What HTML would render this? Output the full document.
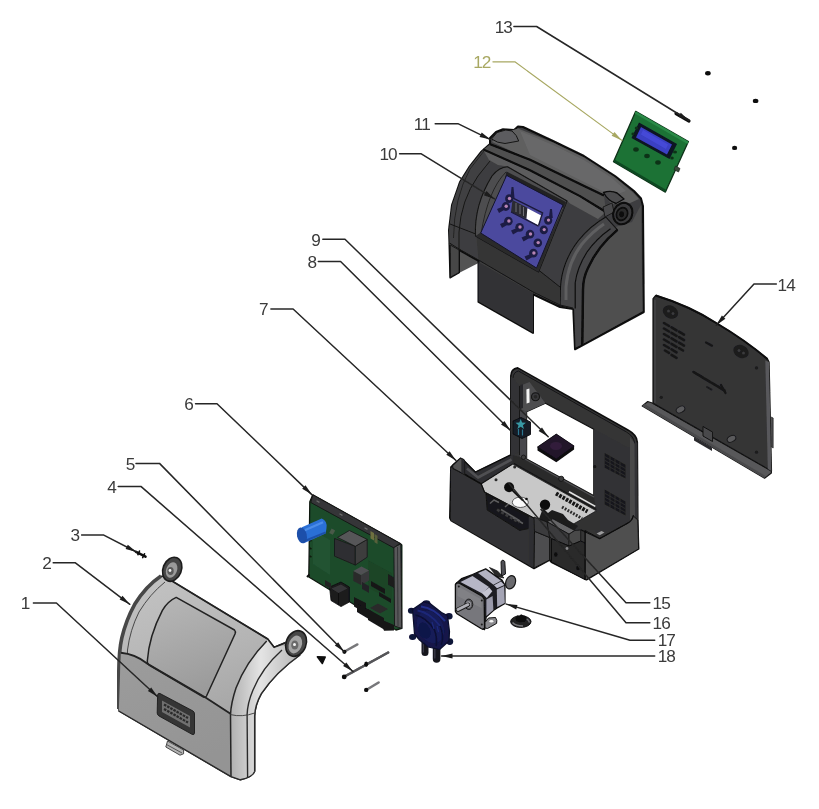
<!DOCTYPE html>
<html>
<head>
<meta charset="utf-8">
<title>Exploded view</title>
<style>
html,body{margin:0;padding:0;background:#fff;}
body{width:819px;height:809px;overflow:hidden;font-family:"Liberation Sans",sans-serif;}
svg{display:block;}
.lbl{font-family:"Liberation Sans",sans-serif;font-size:17.2px;fill:#3a3a3a;letter-spacing:-1px;}
.ld{fill:none;stroke:#262626;stroke-width:1.5;stroke-linejoin:round;stroke-linecap:round;}
.ah{fill:#1c1c1c;stroke:none;}
</style>
</head>
<body>
<svg width="819" height="809" viewBox="0 0 819 809">
<defs>
<filter id="soft" x="-5%" y="-5%" width="110%" height="110%"><feGaussianBlur stdDeviation="0.55"/></filter>
<filter id="soft2" x="-5%" y="-5%" width="110%" height="110%"><feGaussianBlur stdDeviation="0.4"/></filter>
</defs>
<rect x="0" y="0" width="819" height="809" fill="#ffffff"/>

<!-- ===== LEADERS BEHIND PARTS ===== -->
<g id="leaders-back" filter="url(#soft2)">
</g>

<!-- ===== PARTS ===== -->
<g id="parts" filter="url(#soft)">
<!-- 01_frontcover.svg -->
<defs>
<linearGradient id="fcMain" x1="0" y1="0" x2="0.35" y2="1"><stop offset="0" stop-color="#c4c4c4"/><stop offset="0.5" stop-color="#b4b4b4"/><stop offset="1" stop-color="#9c9c9c"/></linearGradient>
<linearGradient id="fcWin" x1="0.2" y1="0" x2="0.5" y2="1"><stop offset="0" stop-color="#b6b6b6"/><stop offset="1" stop-color="#9a9a9a"/></linearGradient>
<linearGradient id="fcLow" x1="0" y1="0" x2="0.4" y2="1"><stop offset="0" stop-color="#9c9c9c"/><stop offset="1" stop-color="#949494"/></linearGradient>
<linearGradient id="fcArm" x1="0" y1="0" x2="1" y2="0"><stop offset="0" stop-color="#b0b0b0"/><stop offset="0.45" stop-color="#e4e4e4"/><stop offset="1" stop-color="#b8b8b8"/></linearGradient>
</defs>
<g id="frontcover" stroke-linejoin="round">
<!-- silhouette -->
<path d="M159.4,576.6 Q164,575 172,581 L267.7,638.9 L274.1,647.3 L286,642 L300,655 Q276,672 261.4,693.6 Q255,705 254.7,716 L254.7,771.4 Q253,777 240.4,779.8 L231,776.6 L118.8,711 L118.8,671.6 Q119,650 121.8,638 Q126,620 134.7,604.3 Q146,586 159.4,576.6 Z" fill="url(#fcMain)" stroke="#2a2a2a" stroke-width="1.3"/>
<!-- left rim dark -->
<path d="M161,576 Q146,586 134.7,604.3 Q126,620 121.8,638 Q119,650 118.8,671.6 L118.8,709" fill="none" stroke="#474747" stroke-width="3.6"/>
<path d="M165,582 Q150,594 139,612 Q130,630 127.5,650 L126.8,707" fill="none" stroke="#3a3a3a" stroke-width="0.9"/>
<path d="M122.3,655 L122.3,706" stroke="#8a8a8a" stroke-width="2.2"/>
<!-- lower panel -->
<path d="M120.8,652.8 Q135,654 147.5,663.7 L205.9,697.3 L230.5,713.6 L231,776.6 L118.8,711 Z" fill="url(#fcLow)"/>
<!-- window -->
<path d="M176.2,597.4 L234.5,630 Q236,631.5 235,634 L206.5,696 Q205.5,698 203.5,697 L149,665 Q147,663.5 147.3,661 Q149,636 162.4,610.3 Q168,601 176.2,597.4 Z" fill="url(#fcWin)" stroke="#222" stroke-width="1.5"/>
<!-- fold line -->
<path d="M120.8,652.8 Q135,654 147.5,663.7 L205.9,697.8 L230.5,713.8" fill="none" stroke="#222" stroke-width="1.9"/>
<!-- right arm -->
<path d="M266.7,641 Q246,662 236,688 Q231,703 230.5,714.6 L231,776.6 L240.4,779.8 Q253,777 254.7,771.4 L254.7,716 Q255,705 261.4,693.6 Q276,672 298,657.5 L284,645.5 L274.1,647.3 L267.7,638.9 Z" fill="url(#fcArm)"/>
<path d="M266.7,641 Q246,662 236,688 Q231,703 230.5,714.6 L231,776.6" fill="none" stroke="#262626" stroke-width="1.5"/>
<path d="M282,650 Q262,668 253,690 Q247.5,703 247.1,714.6 L247.6,778" fill="none" stroke="#2c2c2c" stroke-width="1.4"/>
<path d="M230.5,714.6 Q242,717.5 254.7,713" fill="none" stroke="#3a3a3a" stroke-width="0.9"/>
<path d="M254.7,771.4 L254.7,716 Q255,705 261.4,693.6 Q276,672 300,655" fill="none" stroke="#2a2a2a" stroke-width="1.5"/>
<!-- top edge -->
<path d="M172,581 L267.7,638.9 L274.1,647.3 L285,643" fill="none" stroke="#222" stroke-width="1.7"/>
<!-- bottom edge -->
<path d="M118.8,711 L231,776.6 L240.4,779.8 Q253,777 254.7,771.4" fill="none" stroke="#2a2a2a" stroke-width="1.4"/>
<!-- hinge ears -->
<g>
<ellipse cx="172.2" cy="569.3" rx="9.2" ry="12.4" transform="rotate(22 172.2 569.3)" fill="#454545" stroke="#1c1c1c" stroke-width="1.6"/>
<ellipse cx="171.6" cy="570" rx="5.4" ry="8" transform="rotate(22 171.6 570)" fill="#9a9a9a"/>
<ellipse cx="170.5" cy="571" rx="3.2" ry="4" fill="#5a5a5a"/>
<circle cx="170" cy="570.5" r="1.4" fill="#f0f0f0"/>
<ellipse cx="296.1" cy="643.5" rx="10" ry="13.2" transform="rotate(22 296.1 643.5)" fill="#474747" stroke="#1c1c1c" stroke-width="1.6"/>
<ellipse cx="295.3" cy="644.5" rx="6.4" ry="9.2" transform="rotate(22 295.3 644.5)" fill="#a4a4a4"/>
<ellipse cx="294.8" cy="645" rx="3.6" ry="4.6" fill="#6a6a6a"/>
<circle cx="294.5" cy="644.6" r="1.5" fill="#f4f4f4"/>
</g>
<!-- display slot -->
<path d="M160,693.5 L193,711 Q194.5,712 194.5,714 L194.5,733 Q194.2,735.5 192,734.3 L159,716 Q157.2,715 157.2,713 L157.6,695 Q158,692.6 160,693.5 Z" fill="#343434" stroke="#1c1c1c" stroke-width="0.9"/>
<polygon points="162,700.5 190,716 190,727.5 162,712" fill="#707070"/>
<path d="M164,704.5 L188,718 M164,709 L188,722.5" stroke="#2a2a2a" stroke-width="2.2" stroke-dasharray="2.6 1"/>
<!-- tab -->
<polygon points="167.5,741 183.6,750 183.6,753.8 180,755.2 165.8,747" fill="#b4b4b4" stroke="#3a3a3a" stroke-width="0.9"/>
<path d="M166.5,744.5 L182,753" stroke="#4a4a4a" stroke-width="0.9"/>
</g>

<!-- 04_screws.svg -->
<g id="screws" stroke-linecap="round">
<!-- screw 5 -->
<path d="M345.5,651 L357.4,644.4" stroke="#77777a" stroke-width="2.4"/>
<circle cx="344.4" cy="651.8" r="2.1" fill="#111"/>
<!-- screw 4 -->
<path d="M345.5,676 L388.2,652.5" stroke="#77777a" stroke-width="2.4"/>
<path d="M345.5,676 L388.2,652.5" stroke="#555558" stroke-width="2.4" stroke-dasharray="0.8 1.2"/>
<circle cx="344.2" cy="676.9" r="2.4" fill="#111"/>
<ellipse cx="366.2" cy="664.2" rx="2" ry="2.7" fill="#111"/>
<!-- small screw -->
<path d="M367,689.5 L378.6,682.5" stroke="#77777a" stroke-width="2.6"/>
<circle cx="366.2" cy="689.9" r="2.2" fill="#111"/>
<!-- cone -->
<path d="M317.3,656.8 L325.3,657 L322.3,663.6 Z" fill="#111" stroke="#111" stroke-width="1.4" stroke-linejoin="round"/>
<!-- screw 3 -->
<path d="M136,551.8 L145.5,556.6" stroke="#111" stroke-width="2.6"/>
<path d="M139.5,551 l-1.6,3.6 M144.5,553.8 l-1.8,3.8" stroke="#111" stroke-width="1.6"/>
</g>

<!-- 06_pcb.svg -->
<g id="pcb" stroke-linejoin="round">
<!-- board body -->
<polygon points="312.8,494.8 399.8,543.3 401.8,545 401.8,628.4 396,630 308.8,577 309.8,501.8" fill="#1d4c2c" stroke="#0e160f" stroke-width="1.3"/>
<!-- top bracket strip -->
<polygon points="312.8,494.8 399.8,543.3 394,548 310.8,502.5" fill="#353537" stroke="#141414" stroke-width="0.9"/>
<path d="M317,501 l2,1.2 M340,514 l2,1.2 M365,528 l2,1.2" stroke="#6a6a6a" stroke-width="1.4" stroke-linecap="round"/>
<!-- right strip -->
<polygon points="393.9,547.5 400.8,543.8 401.8,628.4 394.5,626" fill="#58585a" stroke="#151515" stroke-width="0.9"/>
<path d="M397.5,547 L398,626" stroke="#2c2c2e" stroke-width="0.8"/>
<!-- lighter green patches -->
<polygon points="313,530 330,540 330,575 313,564" fill="#215231"/>
<polygon points="368,560 392,573 392,600 368,588" fill="#1a4427"/>
<!-- left edge notches -->
<path d="M309.5,540 l2,1 M309.5,548 l2,1 M309.5,556 l2,1" stroke="#0e1a10" stroke-width="1.6"/>
<!-- capacitor -->
<path d="M301.9,527.3 L321.7,518.6 Q327.5,521 326.5,528 Q326,532 325.6,533.4 L303.9,543.3 Z" fill="#2c6fd6"/>
<path d="M303,531 L323,522.2" stroke="#5a9af0" stroke-width="2.2" opacity="0.7"/>
<ellipse cx="301.9" cy="535.4" rx="4.9" ry="8" transform="rotate(-12 301.9 535.4)" fill="#1e50aa"/>
<path d="M303.5,541.5 L325.6,532.4" stroke="#1a4aa0" stroke-width="2" opacity="0.8"/>
<!-- relay -->
<polygon points="334.5,538.4 355.3,546.3 355.3,565.1 334.5,556.2" fill="#2e2e30" stroke="#161616" stroke-width="0.8"/>
<polygon points="355.3,546.3 367.2,539.4 367.2,557.2 355.3,565.1" fill="#3c3c3e" stroke="#161616" stroke-width="0.8"/>
<polygon points="337.5,537.4 349.4,530.5 367.2,539.4 355.3,546.3" fill="#565658" stroke="#161616" stroke-width="0.8"/>
<!-- small gold part -->
<polygon points="370.5,531 374,533 374,540.5 370.5,538.5" fill="#6e7040"/>
<polygon points="374.5,534 377.5,535.7 377.5,544 374.5,542.3" fill="#58603a"/>
<rect x="330.5" y="529" width="4" height="5" fill="#4a5a4a" transform="rotate(28 332 531)"/>
<!-- small component -->
<polygon points="353.3,571 361,575 361,585 353.3,581" fill="#2a2a2c"/>
<polygon points="361,575 369.1,570.5 369.1,580.5 361,585" fill="#38383a"/>
<polygon points="353.3,571 361.5,566.5 369.1,570.5 361,575" fill="#505052"/>
<polygon points="362,582 369,586 369,593 362,589" fill="#242426"/>
<!-- connectors bottom-left -->
<polygon points="329.6,587 341,582 349.4,587 349.4,602 341,606.6 331,600.5" fill="#1a1a1c" stroke="#0c0c0c" stroke-width="0.8"/>
<polygon points="331.5,588.5 341,584.5 347.5,588.5 338.5,593" fill="#363638"/>
<path d="M338.5,593 L338.5,605" stroke="#0c0c0c" stroke-width="0.8"/>
<polygon points="325,580 331,583.5 331,589 325,585.5" fill="#222"/>
<!-- dark ICs mid -->
<polygon points="371,581 385,589 385,594 371,586" fill="#151517"/>
<polygon points="379,592 391,599 391,603 379,596" fill="#151517"/>
<polygon points="388,574 394,577.5 394,588 388,584.5" fill="#1a1a1c"/>
<!-- bottom right connectors -->
<polygon points="354,597 366,603 366,613.5 354,606.5" fill="#161618"/>
<polygon points="357,603 372,611.5 372,621 357,612" fill="#121214"/>
<polygon points="368,609 384,618 384,629.5 368,620" fill="#161618"/>
<polygon points="380,619 394,625 394,630.5 384,630.8" fill="#141416"/>
<polygon points="370,608 378,603.5 388,609 380,613.5" fill="#2a2a2c"/>
<path d="M309.5,574.5 l-2.5,2.5" stroke="#111" stroke-width="2"/>
</g>

<!-- 07_housing.svg -->
<g id="housing" stroke-linejoin="round">
<!-- overall silhouette -->
<path d="M510.8,376 Q511,369 517.7,367.9 L628.4,430.2 Q637,435 637.3,442 L637.8,522.5 L638.6,548.9 L586.5,579.8 L551.4,562.3 L549.6,560 L534,568.5 L451,520.5 L449.8,518 L450.9,467 L453.9,464.1 L459.8,459.2 L462.8,459.2 L464.3,461.1 L475.4,472.2 L510.8,455 Z" fill="#343435" stroke="#101010" stroke-width="1.6"/>
<!-- opening (white) -->
<polygon points="526.6,411.8 545.4,403.3 593.8,429.2 593.8,495.4 526.6,458.8" fill="#ffffff"/>
<path d="M526.6,458.8 L526.6,411.8 L545.4,403.3 L593.8,429.2 L593.8,495.4" fill="none" stroke="#101010" stroke-width="1.2"/>
<!-- top bar second line -->
<path d="M513,378 Q513.5,372 518.5,371 L626.5,432 Q634,436.5 634.5,443 L635,521" fill="none" stroke="#141416" stroke-width="1"/>
<!-- left pillar inner face (upper) -->
<polygon points="519.5,386 529.5,382 545.4,403.3 526.6,411.8 519.5,409" fill="#4e4e50"/>
<polygon points="519.5,385.5 523,384 523,408 519.5,409.5" fill="#28282a"/>
<polygon points="526.4,389.6 529.4,388.4 529.6,402.5 526.6,403.6" fill="#f4f4f4"/>
<circle cx="535.5" cy="396.8" r="4" fill="#38383a" stroke="#121212" stroke-width="1.1"/>
<circle cx="535.5" cy="396.8" r="1.8" fill="#262628"/>
<!-- left pillar front lower -->
<polygon points="510.8,376 519.5,386 519.5,452 510.8,456" fill="#333334"/>
<polygon points="519.5,409 526.6,411.8 526.6,459 519.5,455.5" fill="#47474b"/>
<path d="M519.5,386 L519.5,455" stroke="#121212" stroke-width="1"/>
<!-- right pillar -->
<polygon points="593.8,429.2 628.4,448 637.3,442 637.8,520 596.3,537 593.8,495.4" fill="#333334"/>
<polygon points="630,437 634.5,443 635,521 630,523.5" fill="#48484a"/>
<circle cx="594.8" cy="466.7" r="1.6" fill="#161618"/>
<!-- vents -->
<g>
<polygon points="604.7,452.9 625.5,464.8 625.5,478.6 604.7,467.8" fill="#19191b"/>
<polygon points="604.7,489.5 625.5,501.4 625.5,515.5 604.7,504.4" fill="#19191b"/>
<g stroke="#38383a" stroke-width="0.6">
<path d="M604.7,456.6 l20.8,11.9 M604.7,460.3 l20.8,11.9 M604.7,464 l20.8,11.9"/>
<path d="M604.7,493.2 l20.8,11.9 M604.7,496.9 l20.8,11.9 M604.7,500.6 l20.8,11.9"/>
<path d="M610,456 l0,15 M615,458.8 l0,15 M620,461.7 l0,15 M610,492.5 l0,15 M615,495.3 l0,15 M620,498.2 l0,15"/>
</g>
</g>
<!-- tray back rim band -->
<polygon points="526.6,458.8 593.8,495.4 596.3,510.8 512.5,464.1 512.5,455" fill="#2a2a2c"/>
<path d="M520,456.3 L594,497" stroke="#505052" stroke-width="1.3"/>
<path d="M526.6,458.8 L593.8,495.4" stroke="#101010" stroke-width="0.8"/>
<circle cx="561.2" cy="478.8" r="2.6" fill="#3c3c3e" stroke="#121212" stroke-width="0.9"/>
<circle cx="523.5" cy="457.3" r="2.2" fill="#3c3c3e" stroke="#121212" stroke-width="0.8"/>
<!-- inner right wall -->
<polygon points="596.3,510.8 599.7,513 599.7,530 580.7,530 566,528" fill="#303032"/>
<!-- floor plate -->
<polygon points="481.1,483.2 512.5,464.1 596.3,510.8 566,528.3 538.4,520.4 484.5,491.8" fill="#c8c8c8" stroke="#1c1c1c" stroke-width="0.8"/>
<path d="M569,491.7 L595.3,506.4" stroke="#e2e2e2" stroke-width="1.6"/>
<path d="M514,463.6 L596.3,509.6" stroke="#151515" stroke-width="1.1"/>
<!-- ledge L-shape -->
<polygon points="464.3,461.1 475.4,472.2 510.8,455 512.5,464.1 481.3,483.8 464.3,473.7" fill="#2e2e30"/>
<path d="M467,468.5 L478,477.5 L511.5,459.5" fill="none" stroke="#505052" stroke-width="2.6"/>
<path d="M464.3,461.1 L475.4,472.2 L510.8,455" fill="none" stroke="#101010" stroke-width="1.1"/>
<path d="M464.3,473.7 L481.3,483.8 L512.5,464.1" fill="none" stroke="#101010" stroke-width="1.1"/>
<!-- plate details -->
<circle cx="496" cy="479.8" r="1.5" fill="#2a2a2a"/><circle cx="514.7" cy="467" r="1.5" fill="#2a2a2a"/>
<ellipse cx="520.3" cy="502.3" rx="8" ry="5.2" fill="#fafafa" stroke="#3a3a3a" stroke-width="0.8"/>
<circle cx="509.1" cy="487.3" r="5" fill="#101010"/>
<path d="M509.1,487.1 L523,500.5" stroke="#101010" stroke-width="1.8"/>
<circle cx="526.5" cy="499" r="1.3" fill="#101010"/>
<circle cx="545" cy="504.7" r="5.2" fill="#101010"/>
<!-- label strip -->
<path d="M556,493.5 L587.5,511.5" stroke="#141414" stroke-width="4" stroke-dasharray="2.6 1.2"/>
<path d="M562,507 L582,518.5" stroke="#2a2a2a" stroke-width="3" stroke-dasharray="1.8 1.4"/>
<!-- cable blob -->
<path d="M543,508 L548,513 L552,510 L563,514 L568,520 L578,526 L573,532 L560,529 L548,523 L538.4,520.4 Z" fill="#1c1c1e"/>
<!-- small box -->
<polygon points="547,521.8 552.8,518.8 574.8,530.5 569,534.2" fill="#666668" stroke="#121212" stroke-width="0.8"/>
<polygon points="547,521.8 569,534.2 569,546 551.4,538.6 547,533" fill="#3a3a3c" stroke="#121212" stroke-width="0.8"/>
<polygon points="569,534.2 574.8,530.5 580.7,530 580.7,541 569,546" fill="#48484a" stroke="#121212" stroke-width="0.8"/>
<!-- front face -->
<polygon points="450.9,467.5 464.3,474.5 481.3,484.3 484.5,492.2 534,518.3 534,568 451,520.5" fill="#333334"/>
<path d="M464.3,474.5 L481.3,484.3 L484.5,492.2 L538.4,520.6" stroke="#101010" stroke-width="1.1" fill="none"/>
<!-- tab -->
<polygon points="452.5,465.5 458.5,459.8 460.6,457.9 464.5,460.5 464.5,474.5 453,468.5" fill="#525253" stroke="#101010" stroke-width="1.1"/>
<polygon points="460.6,457.9 464.5,460.5 464.5,474.5 461.3,472.8 461.3,459.5" fill="#2c2c2d"/>
<!-- cutout -->
<polygon points="486,494 528.5,516.5 528.5,528.6 519.6,530.4 487.2,510" fill="#18181a" stroke="#0c0c0c" stroke-width="0.8"/>
<path d="M490,503.5 L494,500 L499,502.5 M501,509.5 L520,521 M505,507 L508.5,504 M511,516.5 L523,523.5" fill="none" stroke="#5c5c5e" stroke-width="1.5"/>
<path d="M497,509.5 L519,522.5" stroke="#3a3a3c" stroke-width="2.6" stroke-dasharray="3 2"/>
<!-- front face right narrow side -->
<polygon points="528.5,517 534,519.5 534,568 528.5,565" fill="#2e2e30"/>
<!-- center block -->
<polygon points="534.5,531.3 549.6,537.5 549.6,560 534,568" fill="#4e4e4f" stroke="#101010" stroke-width="1"/>
<polygon points="534,517 547,522 549.6,537.5 534.5,531.3" fill="#3a3a3c" stroke="#101010" stroke-width="0.8"/>
<!-- dark block face -->
<polygon points="551.4,538.6 569,546 580.7,541 585.1,543 585.1,579.6 551.4,562" fill="#2a2a2c" stroke="#0e0e0e" stroke-width="1"/>
<ellipse cx="555.8" cy="554.5" rx="1.8" ry="2.2" fill="#0e0e0e"/><ellipse cx="578" cy="568" rx="1.8" ry="2.2" fill="#0e0e0e"/>
<circle cx="567" cy="548.5" r="1.4" fill="#8a8a8c"/>
<!-- right big face -->
<path d="M585.1,530.5 L599.7,538.6 L628,523 Q632.5,520.5 633.4,516 L637.8,520 L638.6,548.9 L586.5,579.6 L585.1,579.6 Z" fill="#4f4f50" stroke="#101010" stroke-width="1"/>
<path d="M580.7,529.8 L599.7,538.6 L628,523 Q632.5,520.5 633.4,515" fill="none" stroke="#101010" stroke-width="1.2"/>
<polygon points="596.5,533.5 601.5,531 604.5,532.6 599.7,535.3" fill="#9c9c9e"/>
<path d="M585.1,530.5 L585.1,579.6" stroke="#0e0e0e" stroke-width="1.1"/>
</g>
<!-- part 8 -->
<g id="part8">
<polygon points="513,421 521,417.5 530.5,422 530.5,434.5 522,438.5 513,434" fill="#141c26" stroke="#0a0a0e" stroke-width="0.9"/>
<path d="M520.7,419 l1.4,3.6 l3.8,0.2 l-3,2.4 l1.1,3.8 l-3.3,-2.2 l-3.3,2.2 l1.1,-3.8 l-3,-2.4 l3.8,-0.2z" fill="#3898a4"/>
<path d="M518.5,429 l0,6 M522.5,429.5 l0,6" stroke="#2a7690" stroke-width="1.2"/>
</g>
<!-- part 9 -->
<g id="part9">
<polygon points="537.5,447 556.3,434.1 574.1,446 574.1,449.5 556.3,462.3 537.5,450.5" fill="#0e0b11"/>
<polygon points="537.5,447 556.3,434.1 574.1,446 556.3,459" fill="#24162c" stroke="#0c0a10" stroke-width="0.8"/>
<ellipse cx="556" cy="446" rx="6" ry="4" fill="#36203f" opacity="0.8"/>
</g>

<!-- 10_topcover.svg -->
<g id="topcover" stroke-linejoin="round">
<!-- inner left wall seen through gap -->
<polygon points="459,250 478.5,261 478.5,263 459,273" fill="#525253"/>
<!-- silhouette -->
<path d="M490,138 L496,132 L503,129.3 L514,130 L518,126.5 L523,127 L553,141 L584,156 L615,176 L634,191 L641,198.5 L643,206 L643.8,312 L581,346 L575,349.3 L573.3,309 L560,307 L533,294.3 L533,333 L478.5,302 L478.5,261 L459,250 L459,272.5 L450.3,277.5 L449.5,245 L449,230 L452,205 L460,182 L470,166 L481,152 L490,144 Z" fill="#3e3e3f" stroke="#0c0c0c" stroke-width="2"/>
<!-- top face (lighter) -->
<path d="M492,142 L497,135 L518,128.5 L553,142.5 L584,157.5 L615,177.5 L633,192.5 L639,199 L628,204 L612,204 L604,195.5 L580,184 L530,159.8 Z" fill="#5e5e5f"/>
<path d="M520,131 L553,145 L584,160 L612,178 L626,191 L612,196 L580,180 L530,155 Z" fill="#686869"/>
<!-- ridge band -->
<path d="M490.2,144.2 L530,159.8 L580,184 L604,195.5 L606,212 L580,196.1 L530,170.2 L483.3,149.4 Z" fill="#4f4f50"/>
<!-- right side face -->
<path d="M581,345 L581,285 Q584,248 612,228 L632,222 L641,205 L642.5,311 Z" fill="#4f4f50"/>
<!-- arch rim -->
<path d="M560,306 L560.5,287 Q562,262 578,241 Q590,226 605.8,217 L617.5,229.9 Q598,246 588,268 Q583,278 583,290 L582.3,345 L575,348.5 L573.5,309 Z" fill="#454547" stroke="#101010" stroke-width="1.1"/>
<path d="M566,300 L566,287 Q568,262 582,244 Q592,232 604,224" fill="none" stroke="#646466" stroke-width="3" opacity="0.8"/>
<path d="M575.2,308.6 L575.2,283 Q577,268 587,252 Q596,239 610.5,228.7" fill="none" stroke="#0e0e0e" stroke-width="1.2"/>
<path d="M582.3,345 L583,290 Q583,278 588,268 Q598,246 617.5,229.9" fill="none" stroke="#080808" stroke-width="2.4"/>
<!-- left curved shoulder -->
<path d="M483.3,149.4 L470,166 L460,182 L452,205 L449,230 L449.5,245 L459,250 L459,232 Q461,200 478,176 L494,156 Z" fill="#414142"/>
<path d="M494,156 L478,176 Q461,200 459,232 L459,250" fill="none" stroke="#161616" stroke-width="1"/>
<path d="M484,151 L470,169 Q454,198 453.5,238" fill="none" stroke="#1c1c1c" stroke-width="0.8"/>
<polygon points="484,151 530,171 580,197 605,212.5 598,219 570,203.5 567,200.5 507.5,166.5 498,165 489,160" fill="#5c5c5d"/>
<!-- ridge lines across top -->
<path d="M490.2,144.2 L530,159.8 L580,184 L604,195.5" fill="none" stroke="#080808" stroke-width="2.3"/>
<path d="M483.3,149.4 L530,170.2 L580,196.1 L606,212" fill="none" stroke="#080808" stroke-width="2.1"/>
<!-- front lower band -->
<polygon points="476.3,234.2 536,268 560,287 560,305 533,292 478.5,260" fill="#343435"/>
<path d="M449.5,243 L459,249 L478.5,260 L533,292 L560,305 L573,308" fill="none" stroke="#141414" stroke-width="1"/>
<path d="M450,224 L476.3,234.2 L536,268 L560,287" fill="none" stroke="#141414" stroke-width="1"/>
<!-- flap -->
<polygon points="478.5,262 533,293 533,332.5 478.5,301.5" fill="#333334"/>
<!-- left leg -->
<polygon points="450.3,245 459,250 459,272.5 450.3,277.3" fill="#464647" stroke="#161616" stroke-width="0.9"/>
<!-- left tab -->
<path d="M491.5,139 L497,132.5 L505.8,130 L512,131 Q517,135 518.7,141 L505,143.5 Q497,143 491.5,139 Z" fill="#5c5c5e" stroke="#161616" stroke-width="1"/>
<!-- right tab -->
<path d="M603.5,192.5 Q611,190 617,193 L624,199 L616,203.5 Q608,201 603.5,192.5 Z" fill="#4c4c4e" stroke="#0c0c0c" stroke-width="1.4"/>
<path d="M603,207 L605,217 L614,212 L612,203 Z" fill="#4a4a4c" stroke="#161616" stroke-width="0.9"/>
<!-- right pivot cylinder -->
<ellipse cx="622.8" cy="213.6" rx="9.4" ry="11" transform="rotate(25 622.8 213.6)" fill="#3a3a3c" stroke="#080808" stroke-width="2"/>
<ellipse cx="622" cy="214" rx="5.4" ry="6.6" transform="rotate(25 622 214)" fill="#2a2a2c" stroke="#080808" stroke-width="1.6"/>
<ellipse cx="621.6" cy="214.2" rx="2.4" ry="3" fill="#0c0c0c"/>
<!-- panel recess -->
<path d="M507.5,166.7 L567,201 L538.5,272 L475.5,236 Q474,205 492,176 Q499,167 507.5,166.7 Z" fill="#4e4e4f" stroke="#121212" stroke-width="1.1"/>
<path d="M506,172 Q488,190 481,234" fill="none" stroke="#1a1a1a" stroke-width="0.8"/>
<polygon points="506.5,171.5 566,202 563.5,208 505,178" fill="#222224"/>
<polygon points="563.5,207 566,202 567,201 538.5,272 536,268" fill="#2a2a2c"/>
<polygon points="480.7,232.5 536.5,267.5 538.5,272 475.5,236" fill="#2a2a2c"/>
<!-- blue panel -->
<polygon points="506.6,175.4 563,205 536.5,268 480.7,233" fill="#4c4a9e" stroke="#14142a" stroke-width="1"/>
<!-- lcd -->
<polygon points="512.5,200 527.8,208 526.5,219 511,212" fill="#2a2a30"/>
<path d="M516,203 l0,9 M520,205 l0,9 M523.5,207 l0,9" stroke="#77777f" stroke-width="0.9"/>
<polygon points="527.4,208.2 542.1,216 538.6,225.8 526.5,218.8" fill="#ffffff"/>
<path d="M511,212 L538.6,226.2" stroke="#1c1a3a" stroke-width="1.4"/>
<path d="M512.6,197.8 L542.6,212.8 L538.6,225.4" fill="none" stroke="#1c1a3a" stroke-width="1.5"/>
<!-- buttons -->
<g fill="#1f1d44">
<ellipse cx="509.2" cy="198.7" rx="4.1" ry="4.4"/><ellipse cx="505.8" cy="206.5" rx="4.2" ry="4.4"/>
<ellipse cx="508.4" cy="221.2" rx="4.3" ry="4.4"/><ellipse cx="519.6" cy="227.3" rx="4.3" ry="4.4"/>
<ellipse cx="530" cy="234.2" rx="4.3" ry="4.4"/><ellipse cx="537.8" cy="242.9" rx="4.3" ry="4.4"/>
<ellipse cx="533.4" cy="253.2" rx="4.3" ry="4.4"/><ellipse cx="548.2" cy="220.4" rx="4.1" ry="4.4"/>
<ellipse cx="543.8" cy="229.9" rx="4.1" ry="4.4"/>
<path d="M511.5,187 l2,0 l1,11 l-4,0z"/><path d="M550,209 l2,0 l0.8,9 l-4,0z"/>
<path d="M497,209 l7,-3 l1,3.5 l-6,3.5z M500,224 l7,-3 l1,3.5 l-6,3.5z M511,230.5 l7,-3 l1,3.5 l-6,3.5z M521.5,237.5 l7,-3 l1,3.5 l-6,3.5z M524.5,256.5 l7,-3 l1,3.5 l-6,3.5z"/>
</g>
<g fill="#b884b4">
<circle cx="509.5" cy="198.5" r="1.7"/><circle cx="506.2" cy="206.3" r="1.7"/>
<circle cx="508.9" cy="221" r="1.7"/><circle cx="520" cy="227" r="1.7"/>
<circle cx="530.5" cy="234" r="1.7"/><circle cx="538.2" cy="242.6" r="1.7"/>
<circle cx="533.9" cy="253" r="1.7"/><circle cx="548.5" cy="220.1" r="1.6"/>
<circle cx="544.2" cy="229.6" r="1.6"/>
</g>
</g>

<!-- 12_displayboard.svg -->
<g id="displayboard" stroke-linejoin="round">
<polygon points="635.7,111.3 688.4,141.5 665.4,192.1 613.5,161.7" fill="#1c7236" stroke="#0e3018" stroke-width="1.3"/>
<polygon points="613.5,161.7 665.4,192.1 666.5,190 614.5,159.5" fill="#0f4a22"/>
<polygon points="635.7,111.3 688.4,141.5 687.5,144 634.8,113.5" fill="#2a8a46"/>
<!-- lcd bezel -->
<polygon points="639,122.5 677,144 669.5,159 631.5,138" fill="#0e1220"/>
<polygon points="641,127 672,144.5 667,154.5 636,137.5" fill="#3a3fc4"/>
<polygon points="643,130 668,144.5 666,149 641,134.5" fill="#4a4fe0" opacity="0.7"/>
<!-- pads -->
<g fill="#0d3318">
<ellipse cx="636" cy="149.5" rx="2.8" ry="2.2"/><ellipse cx="647" cy="156" rx="2.8" ry="2.2"/><ellipse cx="658" cy="162.5" rx="2.8" ry="2.2"/>
<ellipse cx="636.5" cy="128" rx="1.8" ry="1.5"/><ellipse cx="675" cy="152" rx="2" ry="1.6"/><ellipse cx="633" cy="134" rx="1.6" ry="1.4"/><ellipse cx="672" cy="158" rx="1.8" ry="1.5"/>
</g>
<!-- side tab -->
<polygon points="675.5,166 680,168.5 678.5,172 674,169.5" fill="#3a4a3a" stroke="#1c241c" stroke-width="0.7"/>
</g>
<g id="dots" fill="#0a0a0a">
<ellipse cx="707.9" cy="73.2" rx="2.8" ry="2.2"/>
<ellipse cx="755.6" cy="100.9" rx="2.8" ry="2.2"/>
<ellipse cx="734.6" cy="147.9" rx="2.6" ry="2.2"/>
</g>
<!-- screw 13 -->
<g id="screw13">
<path d="M676,113.5 L689,121" stroke="#111" stroke-width="3.2" stroke-linecap="round"/>
</g>

<!-- 14_backpanel.svg -->
<g id="backpanel" stroke-linejoin="round">
<!-- flange -->
<polygon points="642.2,406 647.7,401.5 653.1,403.3 771.4,470.5 771.4,473 764.6,478.3" fill="#58585a" stroke="#161616" stroke-width="1.1"/>
<polygon points="642.2,406 764.6,478.3 764.8,475.5 644,403.8" fill="#4a4a4c"/>
<!-- panel -->
<path d="M655.8,295.5 Q690,306 717,323.5 Q745,340 767.5,359 L769,362 L771.4,471 L653.1,403.3 L653.1,298.6 Z" fill="#343436" stroke="#121212" stroke-width="1.4"/>
<!-- right edge strip -->
<path d="M765.3,360.5 L769,362 L771.4,471 L767.8,469 Z" fill="#59595b"/>
<path d="M771.4,417 L773.2,418 L773.2,448 L771.4,447 Z" fill="#4a4a4c" stroke="#1a1a1a" stroke-width="0.6"/>
<!-- top edge highlight -->
<path d="M655.8,295.5 Q690,306 717,323.5 Q745,340 767.5,359" fill="none" stroke="#0c0c0c" stroke-width="2"/>
<!-- left edge highlight -->
<path d="M655,300 L655,403" stroke="#4a4a4c" stroke-width="1.2"/>
<!-- vent cluster top-left -->
<g fill="#1a1a1c">
<ellipse cx="670.5" cy="312" rx="8" ry="6.2" transform="rotate(28 670.5 312)"/>
<ellipse cx="741" cy="351.5" rx="8" ry="6.2" transform="rotate(28 741 351.5)"/>
</g>
<g fill="#3a3a3c">
<circle cx="668.5" cy="311" r="1.5"/><circle cx="673" cy="313.5" r="1.5"/>
<circle cx="739" cy="350.5" r="1.5"/><circle cx="743.5" cy="353" r="1.5"/>
</g>
<!-- vent grid -->
<g stroke="#171719" stroke-width="2.6" stroke-linecap="round">
<path d="M664,323 l5,3 M671.5,327.3 l5,3 M679,331.6 l5,3"/>
<path d="M664,328.5 l5,3 M671.5,332.8 l5,3 M679,337.1 l5,3"/>
<path d="M664,334 l5,3 M671.5,338.3 l5,3 M679,342.6 l5,3"/>
<path d="M664,339.5 l5,3 M671.5,343.8 l5,3 M679,348.1 l4,2.4"/>
<path d="M664,345 l5,3 M671.5,349.3 l5,3"/>
<path d="M665,350.5 l4,2.4 M671.5,354.8 l5,3"/>
</g>
<!-- slot -->
<path d="M706,342.5 l6,3.2" stroke="#161618" stroke-width="2.2" stroke-linecap="round"/>
<!-- logo -->
<path d="M693.5,372 L724.5,390.5" stroke="#141416" stroke-width="2.6" stroke-linecap="round" stroke-dasharray="3.2 0.9"/>
<path d="M721,385 L725.5,393" stroke="#141416" stroke-width="2.2" stroke-linecap="round"/>
<path d="M707,387 l4.5,2.6" stroke="#1a1a1c" stroke-width="1.8" stroke-linecap="round"/>
<!-- small screws -->
<g fill="#1a1a1c"><circle cx="756.5" cy="367.9" r="1.6"/><circle cx="661.3" cy="397.3" r="1.6"/><circle cx="756.5" cy="452.2" r="1.6"/></g>
<!-- ovals -->
<ellipse cx="680.5" cy="409.5" rx="4.6" ry="3" transform="rotate(-28 680.5 409.5)" fill="#5a5a5c" stroke="#18181a" stroke-width="0.9"/>
<ellipse cx="731.5" cy="438.8" rx="4.6" ry="3" transform="rotate(-28 731.5 438.8)" fill="#5a5a5c" stroke="#18181a" stroke-width="0.9"/>
<!-- square notch -->
<polygon points="703,426.5 712.5,432 712.5,441.5 703,436" fill="#4a4a4c" stroke="#121212" stroke-width="1"/>
<polygon points="694,437 712,447.5 712,451 694,440.5" fill="#2c2c2e"/>
</g>

<!-- 17_motor.svg -->
<g id="motor" stroke-linejoin="round">
<!-- fan behind -->
<path d="M501,561.5 Q503,558.5 504.8,561.5 L505.5,574 L501.5,576 Z" fill="#505054" stroke="#141414" stroke-width="1"/>
<path d="M489.5,567.5 L497.5,571 L504,578 L497,576.5 Z" fill="#2a2a2c" stroke="#141414" stroke-width="0.8"/>
<ellipse cx="510.6" cy="582.3" rx="4.8" ry="6.8" transform="rotate(20 510.6 582.3)" fill="#6a6a6e" stroke="#141414" stroke-width="1.2"/>
<!-- body dark base -->
<path d="M456,583.5 L461.5,578.6 L472.5,574.5 L478,572 L485.7,568.8 L502,580 L505,585 L505,603.6 L497.2,608 L493.4,610.5 L486.2,617 L484.6,629.7 L456,612 Z" fill="#1c1c20" stroke="#101010" stroke-width="1.2"/>
<!-- seg1 top -->
<polygon points="460.5,582 472.5,575.9 489,586.9 482.3,593.4" fill="#b6b6c6"/>
<!-- seg2 top -->
<polygon points="478,573.1 485.7,569.8 501,580.8 493.4,584.7" fill="#b2b2c2"/>
<!-- seg1 chamfer -->
<polygon points="481.8,593 489.2,587.6 492.3,591.3 486.8,597.9" fill="#c4c4d2"/>
<!-- seg1 side -->
<polygon points="486.4,599.5 492.6,596 493.4,610 486.4,616" fill="#9a9aaa"/>
<!-- seg2 chamfer -->
<polygon points="494,585.3 501,581.6 504.3,584.9 497,588.3" fill="#bcbccc"/>
<!-- seg2 side -->
<polygon points="496.8,589.5 504.2,586 504.8,603 497.2,607" fill="#a4a4b4"/>
<!-- front face -->
<path d="M455.4,584.5 L457,582.8 L459,583 L482.5,596.5 L484.2,599.2 L484.6,628 L483,629.3 L481,628.5 L457,613.8 L455.4,611.5 Z" fill="#77777b" stroke="#101010" stroke-width="1.3"/>
<polygon points="457.5,586 481.5,599.5 481.5,608 457.5,596" fill="#86868a" opacity="0.7"/>
<circle cx="458.8" cy="586.5" r="1" fill="#1c1c1c"/><circle cx="481.8" cy="600.5" r="1" fill="#1c1c1c"/><circle cx="481.8" cy="624.5" r="1" fill="#1c1c1c"/><circle cx="458.5" cy="609.5" r="1" fill="#1c1c1c"/>
<!-- hub & shaft -->
<ellipse cx="468.8" cy="604.3" rx="4" ry="5.2" fill="#58585c" stroke="#1c1c1c" stroke-width="1"/>
<ellipse cx="468.5" cy="604.5" rx="2.4" ry="3.2" fill="#a8a8ae"/>
<path d="M458,609.7 L468,604.8" stroke="#1c1c1c" stroke-width="4.6" stroke-linecap="round"/>
<path d="M458,609.5 L468,604.6" stroke="#b0b0b6" stroke-width="2.8" stroke-linecap="round"/>
<!-- bracket -->
<polygon points="485,622.5 488.5,618 495.5,617.5 496.8,620.5 496.6,623.4 487.5,628.5 485,628" fill="#8a8a8e" stroke="#101010" stroke-width="1"/>
<ellipse cx="491.4" cy="621.3" rx="2" ry="1.3" fill="#f4f4f4"/>
</g>
<g id="disk17">
<ellipse cx="520.8" cy="621.6" rx="10.2" ry="5.8" fill="#222224" stroke="#0e0e0e" stroke-width="1"/>
<path d="M512.5,622.5 Q516,626 523,626" fill="none" stroke="#77777a" stroke-width="1.6"/>
<path d="M526,618.5 Q529,620 529.5,622.5" fill="none" stroke="#6a6a6e" stroke-width="1.4"/>
<path d="M515.5,618.5 l1.5,-3 l2.5,0.6 l1.5,-1.8 l2.6,1.2 l2.4,0.6 l0.8,3 l-2.2,2.6 l-5,0.6 l-3.4,-1.4z" fill="#080808"/>
</g>

<!-- 18_pump.svg -->
<g id="pump" stroke-linejoin="round">
<!-- ports -->
<path d="M425,640 L425,652.5" stroke="#17171e" stroke-width="7" stroke-linecap="round"/>
<path d="M436.6,645 L436.6,659" stroke="#17171e" stroke-width="7.6" stroke-linecap="round"/>
<path d="M423.4,643 L423.4,652.5" stroke="#3a3a48" stroke-width="1.3"/>
<path d="M434.8,648 L434.8,658.5" stroke="#3a3a48" stroke-width="1.3"/>
<!-- ears -->
<g fill="#0e1338">
<ellipse cx="411.3" cy="610.8" rx="3.4" ry="3"/><ellipse cx="426.4" cy="603.2" rx="4" ry="3"/><ellipse cx="449" cy="616.2" rx="3.6" ry="3.2"/><ellipse cx="412.6" cy="637" rx="3.6" ry="3"/><ellipse cx="449.8" cy="641.6" rx="3.4" ry="3.4"/>
</g>
<!-- body -->
<path d="M412.5,609.5 L423.5,602 L430,603.5 L441.5,612.5 L447.5,615.5 L449.5,631.5 L449,641 L439.6,649.5 L428,647 L419.5,640 L414.5,634 L413,615 Z" fill="#121848" stroke="#0a0e2c" stroke-width="1.2"/>
<ellipse cx="430.5" cy="627" rx="12.5" ry="17" transform="rotate(-28 430.5 627)" fill="#151c58"/>
<path d="M421,606.5 Q434,608 445,621" fill="none" stroke="#222e8a" stroke-width="2"/>
<path d="M417.5,610.5 Q430,612.5 440,626" fill="none" stroke="#1c2878" stroke-width="1.8"/>
<path d="M415.5,615 Q426,617 434.5,630 Q437.5,638 436,646" fill="none" stroke="#0c1034" stroke-width="1.6"/>
<path d="M440,626 Q444,634 441.5,645" fill="none" stroke="#0c1034" stroke-width="1.4"/>
<ellipse cx="424.5" cy="630.5" rx="5.6" ry="8.6" transform="rotate(-25 424.5 630.5)" fill="#10164a"/>
<path d="M432,622 l2,7 M437,626 l1.6,6" stroke="#1e2a7c" stroke-width="1.2"/>
</g>


</g>

<!-- ===== LEADERS & LABELS ===== -->
<g id="leaders" filter="url(#soft2)">
<path class="ld" d="M33.4,603.0 L56.4,603.0 L157.6,696.8"/>
<polygon class="ah" points="157.6,696.8 147.9,691.1 151.2,687.6"/>
<path class="ld" d="M53.2,562.8 L75.4,562.8 L129.8,604.3"/>
<polygon class="ah" points="129.8,604.3 119.6,599.5 122.5,595.7"/>
<path class="ld" d="M81.6,535.1 L103.8,535.1 L136.5,552.0"/>
<polygon class="ah" points="136.5,552.0 125.6,549.1 127.8,544.8"/>
<path class="ld" d="M118.2,486.4 L140.9,486.4 L353.0,671.5"/>
<polygon class="ah" points="353.0,671.5 343.1,666.1 346.3,662.5"/>
<path class="ld" d="M136.0,463.4 L159.5,463.4 L344.2,651.8"/>
<polygon class="ah" points="344.2,651.8 334.8,645.6 338.2,642.3"/>
<path class="ld" d="M195.5,403.7 L217.0,403.7 L311.8,494.6"/>
<polygon class="ah" points="311.8,494.6 302.2,488.7 305.5,485.3"/>
<path class="ld" d="M270.9,309.0 L293.1,309.0 L456.0,460.5"/>
<polygon class="ah" points="456.0,460.5 446.3,454.8 449.6,451.3"/>
<path class="ld" d="M318.3,261.5 L340.6,261.5 L510.5,430.5"/>
<polygon class="ah" points="510.5,430.5 501.0,424.4 504.4,421.0"/>
<path class="ld" d="M322.8,239.3 L345.0,239.3 L548.2,436.8"/>
<polygon class="ah" points="548.2,436.8 538.6,430.9 542.0,427.4"/>
<path class="ld" d="M399.6,153.8 L421.3,153.8 L494.5,198.9"/>
<polygon class="ah" points="494.5,198.9 483.9,195.2 486.4,191.1"/>
<path class="ld" d="M435.2,123.7 L457.9,123.7 L490.5,139.6"/>
<polygon class="ah" points="490.5,139.6 479.6,136.9 481.7,132.6"/>
<path class="ld" d="M492.9,61.8 L514.9,61.8 L621.9,140.4" style="stroke:#a8a862;stroke-width:1.15"/>
<polygon class="ah" points="621.9,140.4 611.6,135.8 614.5,132.0" style="fill:#a8a862"/>
<path class="ld" d="M513.9,26.5 L536.6,26.5 L688.9,120.5"/>
<polygon class="ah" points="688.9,120.5 678.3,116.8 680.8,112.7"/>
<path class="ld" d="M776.3,284.1 L754.0,284.1 L716.2,325.3"/>
<polygon class="ah" points="716.2,325.3 721.9,315.6 725.4,318.8"/>
<path class="ld" d="M649.8,602.7 L626.0,602.7 L541.0,509.5"/>
<path class="ld" d="M649.8,622.8 L626.0,622.8 L509.0,483.6"/>
<path class="ld" d="M654.7,640.3 L630.0,640.3 L506.3,604.1"/>
<polygon class="ah" points="506.3,604.1 517.5,604.9 516.2,609.5"/>
<path class="ld" d="M654.7,656.1 L600.0,656.1 L441.5,656.0"/>
<polygon class="ah" points="441.5,656.0 452.5,653.6 452.5,658.4"/>
</g>
<g id="labels" filter="url(#soft2)">
<text class="lbl" x="29.2" y="609.1" text-anchor="end">1</text>
<text class="lbl" x="50.9" y="568.9" text-anchor="end">2</text>
<text class="lbl" x="79.1" y="541.2" text-anchor="end">3</text>
<text class="lbl" x="115.7" y="492.5" text-anchor="end">4</text>
<text class="lbl" x="134.2" y="469.5" text-anchor="end">5</text>
<text class="lbl" x="192.9" y="409.8" text-anchor="end">6</text>
<text class="lbl" x="267.5" y="315.1" text-anchor="end">7</text>
<text class="lbl" x="316.0" y="267.6" text-anchor="end">8</text>
<text class="lbl" x="319.7" y="245.5" text-anchor="end">9</text>
<text class="lbl" x="396.7" y="160.0" text-anchor="end">10</text>
<text class="lbl" x="429.7" y="129.8" text-anchor="end">11</text>
<text class="lbl" x="490.4" y="68.0" text-anchor="end" style="fill:#a8a862">12</text>
<text class="lbl" x="511.9" y="32.6" text-anchor="end">13</text>
<text class="lbl" x="777.6" y="290.8" text-anchor="start">14</text>
<text class="lbl" x="652.6" y="608.9" text-anchor="start">15</text>
<text class="lbl" x="652.6" y="628.9" text-anchor="start">16</text>
<text class="lbl" x="657.8" y="646.4" text-anchor="start">17</text>
<text class="lbl" x="657.8" y="662.2" text-anchor="start">18</text>
</g>
</svg>
</body>
</html>
